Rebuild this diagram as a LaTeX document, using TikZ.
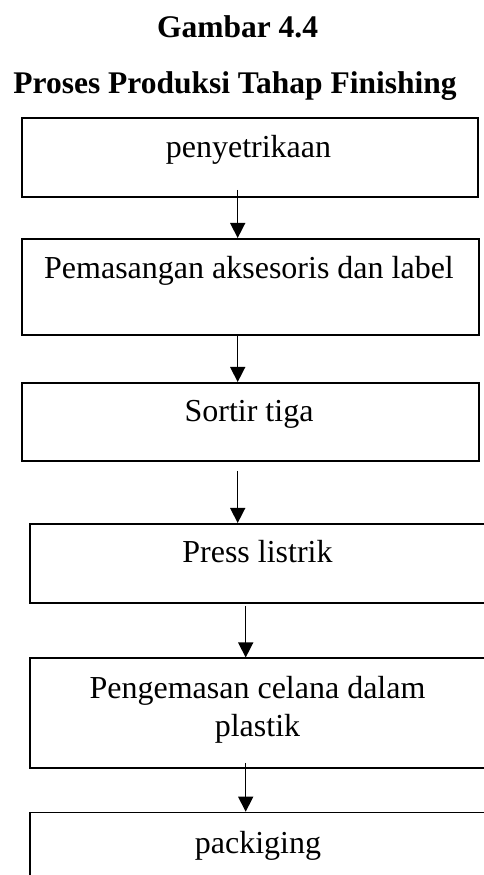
\documentclass[tikz,border=0pt]{standalone}
\usepackage{fontspec}
\setmainfont{Liberation Serif}
\usetikzlibrary{arrows.meta,calc}
\begin{document}
\begin{tikzpicture}[x=1pt,y=1pt,
  boxst/.style={draw=black,line width=1.8pt,rectangle,inner sep=0pt,anchor=north west},
  txt/.style={inner sep=0pt,anchor=base,font=\fontsize{32}{38}\selectfont,align=center},
  ttl/.style={inner sep=0pt,anchor=base,font=\fontsize{31.5}{38}\selectfont\bfseries},
  arr/.style={line width=1.5pt,-{Triangle[width=15pt,length=15pt]}}]
\useasboundingbox (0,0) rectangle (484,875);
% titles
\node[ttl] (t1) at (237.5,837.7) {Gambar 4.4};
\node[ttl] (t2) at (235,781.7) {Proses Produksi Tahap Finishing};
% boxes
\node[boxst,minimum width=456pt,minimum height=79pt] (b1) at (21,758) {};
\node[boxst,minimum width=457pt,minimum height=96pt] (b2) at (21,637) {};
\node[boxst,minimum width=457pt,minimum height=78.5pt] (b3) at (21,493) {};
\node[boxst,minimum width=480pt,minimum height=79pt] (b4) at (29.3,352) {};
\node[boxst,minimum width=480pt,minimum height=110pt] (b5) at (29.3,217.5) {};
\node[boxst,minimum width=480pt,minimum height=110pt] (b6) at (29.3,63.3) {};
% texts
\node[txt] (l1) at (248.5,717) {penyetrikaan};
\node[txt] (l2) at (249,596) {Pemasangan aksesoris dan label};
\node[txt] (l3) at (249,453) {Sortir tiga};
\node[txt] (l4) at (257.5,312) {Press listrik};
\node[txt] (l5) at (257.5,176) {Pengemasan celana dalam};
\node[txt] (l5b) at (257.5,138) {plastik};
\node[txt] (l6) at (258,21) {packiging};
% arrows
\coordinate (a1s) at (237.7,685);
\coordinate (a3s) at (237.7,404);
\coordinate (a4s) at (245.7,269);
\coordinate (a5s) at (245.7,112);
\draw[arr] (a1s) -- (a1s |- b2.north);
\draw[arr] (a1s |- b2.south) -- (a1s |- b3.north);
\draw[arr] (a3s) -- (a3s |- b4.north);
\draw[arr] (a4s) -- (a4s |- b5.north);
\draw[arr] (a5s) -- (a5s |- b6.north);
\end{tikzpicture}
\end{document}
